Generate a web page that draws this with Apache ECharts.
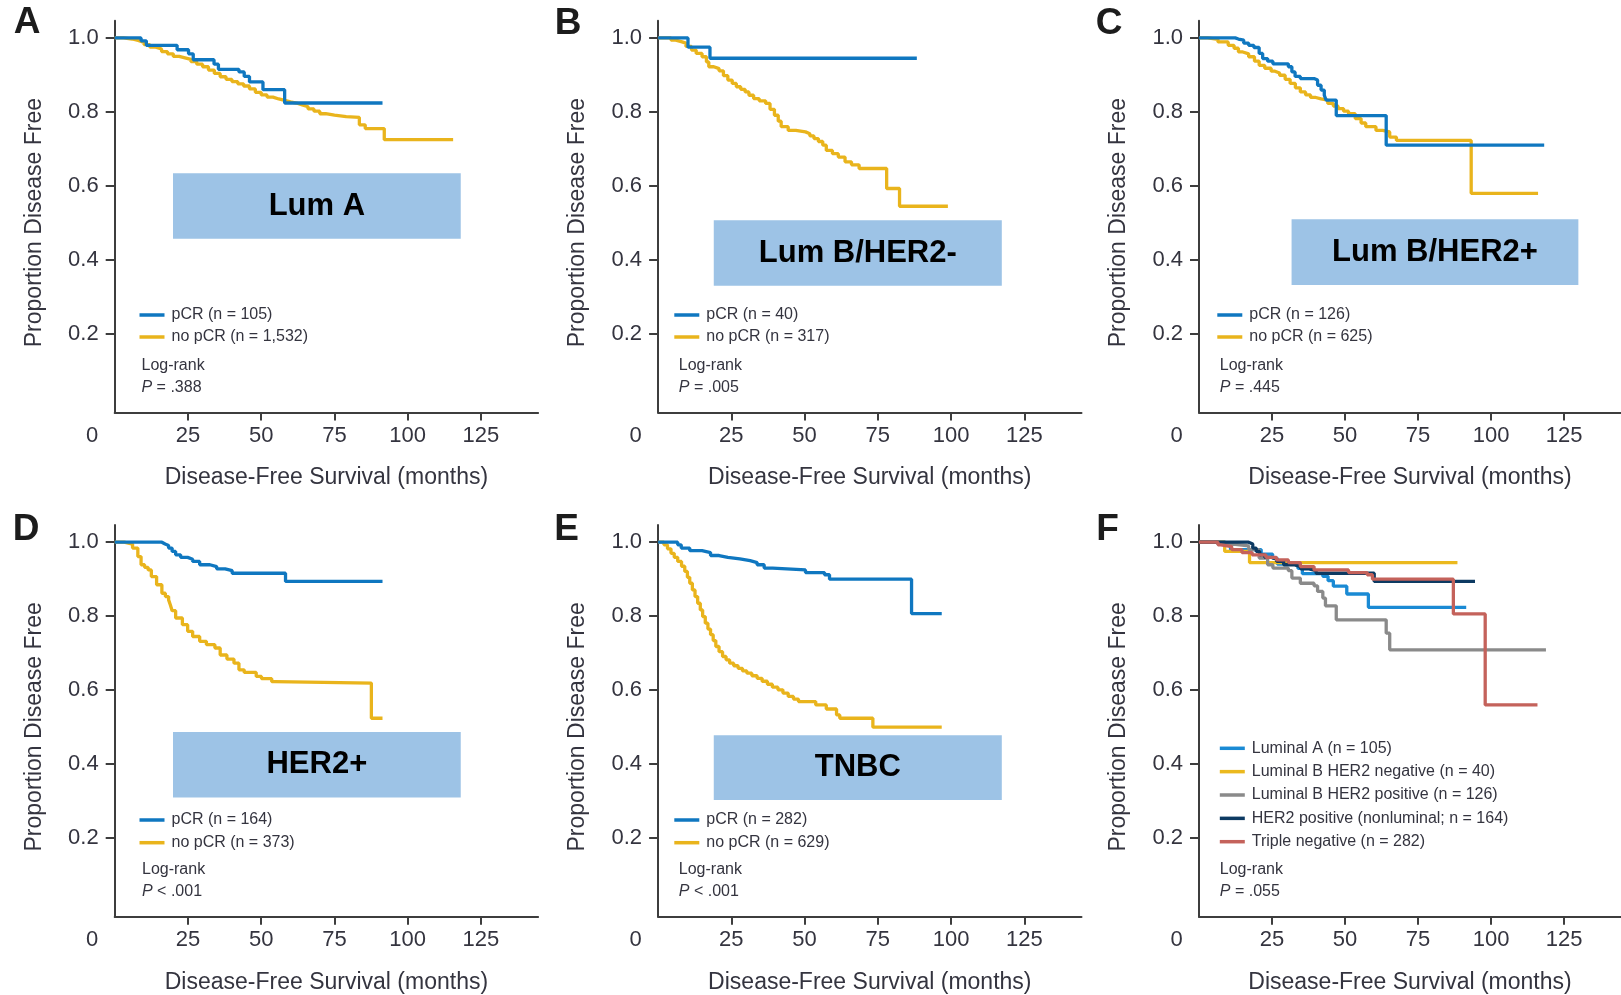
<!DOCTYPE html>
<html><head><meta charset="utf-8">
<script src="https://cdn.jsdelivr.net/npm/echarts@6/dist/echarts.min.js"></script>
<style>html,body{margin:0;padding:0;background:#fff}#c{width:1621px;height:995px}</style>
</head><body><div id="c"></div>
<script>
// ---------------- DATA ----------------
const xTicks = [0, 25, 50, 75, 100, 125];
const yTicks = [0.2, 0.4, 0.6, 0.8, 1.0];
const panelLetters = ['A', 'B', 'C', 'D', 'E', 'F'];
const subtypeLabels = ['Lum A', 'Lum B/HER2-', 'Lum B/HER2+', 'HER2+', 'TNBC'];
const pcrNames = ['pCR (n = 105)', 'pCR (n = 40)', 'pCR (n = 126)', 'pCR (n = 164)', 'pCR (n = 282)'];
const noPcrNames = ['no pCR (n = 1,532)', 'no pCR (n = 317)', 'no pCR (n = 625)', 'no pCR (n = 373)', 'no pCR (n = 629)'];
const fNames = ['Luminal A (n = 105)', 'Luminal B HER2 negative (n = 40)', 'Luminal B HER2 positive (n = 126)', 'HER2 positive (nonluminal; n = 164)', 'Triple negative (n = 282)'];
const pValues = ['= .388', '= .005', '= .445', '< .001', '< .001', '= .055'];
const xTitle = 'Disease-Free Survival (months)';
const yTitle = 'Proportion Disease Free';

// [month, proportion disease free]
const lumA_pcr = [[0,1],[9.0,0.992],[10.8,0.980],[21.3,0.968],[25.2,0.957],[26.8,0.941],[33.9,0.929],[35.4,0.915],[42.4,0.908],[44.2,0.896],[46.0,0.881],[50.6,0.860],[58.0,0.824],[91.4,0.824]];
const lumA_nopcr = [[0,1],[3,0.997],[6,0.993],[8,0.988],[10,0.982],[12,0.975],[14,0.97],[16,0.963],[18,0.957],[20,0.95],[22,0.946],[24,0.942],[26,0.936],[28,0.929],[30,0.922],[32,0.913],[34,0.904],[36,0.895],[38,0.888],[40,0.882],[42,0.876],[44,0.87],[46,0.862],[48,0.853],[50,0.846],[52,0.84],[54,0.835],[56,0.831],[58,0.827],[60,0.824],[62,0.819],[64,0.814],[66,0.808],[68,0.802],[70,0.795],[72,0.791],[75,0.787],[79,0.785],[83.5,0.765],[85.5,0.755],[92,0.725],[115.5,0.725]];
const lumB2neg_pcr = [[0,1],[10.2,0.975],[17.7,0.945],[88.3,0.945]];
const lumB2neg_nopcr = [[0,1],[4.4,0.994],[6,0.99],[7.9,0.986],[9.5,0.977],[11.4,0.967],[13,0.958],[15,0.949],[16.5,0.935],[17.3,0.922],[19,0.917],[20.8,0.911],[22.3,0.898],[23.8,0.886],[25.3,0.877],[26.7,0.868],[28.2,0.861],[29.7,0.854],[31,0.845],[32.6,0.836],[34.5,0.83],[36.7,0.823],[38.2,0.807],[39.7,0.791],[41,0.775],[42,0.76],[44.4,0.75],[47,0.746],[50.3,0.741],[51.8,0.735],[53.2,0.728],[54.7,0.72],[56.2,0.71],[57.4,0.696],[59.5,0.687],[61.5,0.678],[63.8,0.665],[66,0.657],[68.6,0.647],[78,0.593],[82.4,0.545],[98.9,0.545]];
const lumB2pos_pcr = [[0,1],[12.4,0.997],[13.5,0.994],[15.3,0.986],[17,0.98],[18.8,0.974],[20.6,0.958],[21.8,0.944],[23.5,0.937],[25.3,0.93],[30.6,0.922],[31.8,0.908],[32.9,0.896],[34.7,0.89],[39.4,0.886],[40.6,0.872],[41.8,0.859],[42.9,0.845],[43.5,0.832],[47,0.79],[64.1,0.71],[118.2,0.71]];
const lumB2pos_nopcr = [[0,1],[3,0.996],[6.5,0.989],[10,0.98],[12,0.972],[13.5,0.962],[15,0.957],[17,0.949],[19,0.937],[20.6,0.926],[22.5,0.918],[24.7,0.91],[26,0.905],[27.6,0.899],[29.5,0.888],[31.2,0.877],[33,0.865],[34.7,0.854],[36.5,0.846],[38.2,0.839],[40,0.835],[41.8,0.832],[44.1,0.823],[46,0.816],[47.6,0.809],[49.5,0.802],[51.2,0.795],[53.5,0.782],[55.5,0.77],[57.1,0.76],[60.6,0.75],[62.9,0.746],[65.3,0.732],[67.6,0.723],[93.2,0.58],[116.1,0.58]];
const her2_pcr = [[0,1],[16.1,0.995],[17.2,0.991],[18.4,0.984],[19.6,0.975],[20.8,0.966],[22.5,0.959],[24.9,0.954],[26.6,0.948],[29,0.939],[32.5,0.934],[34.8,0.928],[37.7,0.923],[40.1,0.916],[58.3,0.894],[91.4,0.894]];
const her2_nopcr = [[0,1],[3.2,0.995],[6.1,0.984],[7.9,0.961],[9,0.939],[10.2,0.932],[11.4,0.925],[12.5,0.907],[14.3,0.885],[16.1,0.862],[17.3,0.853],[18.4,0.844],[19,0.83],[19.6,0.815],[20.8,0.795],[23.1,0.777],[24.9,0.759],[26.6,0.745],[29,0.732],[31.3,0.723],[34.2,0.714],[36,0.695],[38.3,0.684],[40.7,0.673],[42.4,0.655],[44.2,0.648],[48.3,0.637],[50.1,0.631],[53.6,0.623],[54.7,0.619],[87.6,0.524],[91.4,0.524]];
const tnbc_pcr = [[0,1],[6.7,0.993],[7.9,0.984],[10.8,0.977],[15,0.972],[17.9,0.964],[20.8,0.959],[23.8,0.955],[27.9,0.95],[31.4,0.945],[33.8,0.939],[36.2,0.93],[39.1,0.925],[50.3,0.918],[56.8,0.912],[58.5,0.9],[86.5,0.807],[96.8,0.807]];
const tnbc_nopcr = [[0,1],[2,0.993],[3.2,0.982],[4.4,0.97],[5.5,0.959],[6.7,0.948],[8,0.935],[9.1,0.921],[10,0.905],[10.8,0.889],[11.7,0.871],[12.6,0.853],[13.5,0.835],[14.4,0.817],[15.2,0.799],[16.1,0.781],[17,0.765],[17.9,0.75],[18.8,0.734],[19.7,0.718],[20.8,0.704],[22,0.691],[23.2,0.682],[24.4,0.673],[25.8,0.666],[27.3,0.659],[28.8,0.652],[30.3,0.646],[32,0.639],[33.8,0.632],[35.5,0.624],[37.3,0.616],[39,0.608],[40.9,0.601],[42.6,0.592],[44.4,0.583],[46.2,0.576],[47.9,0.569],[53.8,0.56],[57.4,0.549],[60.9,0.533],[62,0.524],[73.3,0.5],[96.8,0.5]];
// Panel F
const f_lumA = [[0,1],[9.0,0.992],[10.8,0.980],[21.3,0.968],[25.2,0.957],[26.8,0.941],[33.9,0.929],[35.4,0.915],[42.4,0.908],[44.2,0.896],[46.0,0.881],[50.6,0.860],[58.0,0.824],[91.5,0.824]];
const f_lumB2neg = [[0,1],[8.8,0.975],[17.3,0.945],[88.5,0.945]];
const f_lumB2pos = [[0,1],[6.5,0.994],[12.4,0.99],[17,0.98],[20.6,0.957],[23.5,0.939],[25.3,0.93],[30.6,0.923],[31.8,0.903],[34.7,0.889],[39.4,0.882],[40.6,0.867],[42.4,0.849],[43.3,0.828],[47,0.79],[64.1,0.754],[65.3,0.709],[118.8,0.709]];
const f_her2 = [[0,1],[17,0.995],[18.4,0.984],[19.6,0.975],[20.8,0.966],[22.5,0.959],[24.9,0.954],[26.6,0.948],[29,0.939],[32.5,0.934],[34.8,0.928],[37.7,0.923],[40.1,0.916],[60,0.894],[94.5,0.894]];
const f_tn = [[0,1],[6.5,0.993],[7.5,0.988],[11.2,0.98],[14.7,0.972],[18.2,0.966],[22.9,0.959],[26.5,0.952],[30.6,0.945],[34.7,0.934],[39.4,0.925],[51.2,0.918],[57.6,0.912],[59.4,0.9],[87.1,0.806],[98,0.56],[115.9,0.56]];

// ---------------- LAYOUT / STYLE ----------------
const FONT = '"Liberation Sans", Arial, sans-serif';
const TXT = '#34343f';
const AX = '#3d3d3d';
const BLUE = '#0f77c0', GOLD = '#e9b41c';
const F_COLORS = ['#1a8ad4', '#ebb91e', '#8a8a8a', '#0d3a62', '#c4625b'];
const LINE_W = 3.3;
const X_MAX = 144.5, Y_MIN = -0.0125, Y_MAX = 1.0465;
const GRID_W = 423.4;
const COL_LEFT = [114.7, 658.1, 1199];
const ROWS = [{top: 20.7, height: 391.8}, {top: 525, height: 391.7}];
const LEGEND_POS = [[139.5, 307, 6], [674.3, 307, 6], [1217.3, 307, 6], [139.5, 812, 6.7], [674.3, 812, 6.7], [1219.8, 740.3, 7.35]];
const LOGRANK_POS = [[141.5, 354], [678.8, 354], [1219.8, 354], [142, 858.3], [678.8, 858.3], [1219.8, 858.3]];
const LETTER_POS = [[27, 23], [568, 24], [1109, 23.5], [26, 529.5], [566.7, 529.5], [1107.6, 529.5]];
const BOX = [[19.9, 0.634, 118.1, 0.457], [19.0, 0.507, 117.3, 0.330], [31.7, 0.51, 129.9, 0.332], [19.9, 0.487, 118.1, 0.31], [19.0, 0.478, 117.3, 0.303]];

const pcrData = [lumA_pcr, lumB2neg_pcr, lumB2pos_pcr, her2_pcr, tnbc_pcr];
const noPcrData = [lumA_nopcr, lumB2neg_nopcr, lumB2pos_nopcr, her2_nopcr, tnbc_nopcr];
const fData = [f_lumA, f_lumB2neg, f_lumB2pos, f_her2, f_tn];

const grids = [], xAxes = [], yAxes = [], series = [], legends = [], titles = [], graphics = [];

for (let i = 0; i < 6; i++) {
  const row = ROWS[Math.floor(i / 3)];
  grids.push({left: COL_LEFT[i % 3], top: row.top, width: GRID_W, height: row.height, containLabel: false});
  xAxes.push({
    gridIndex: i, type: 'value', min: 0, max: X_MAX,
    axisLine: {show: true, onZero: false, lineStyle: {color: AX, width: 2}},
    axisTick: {show: true, customValues: xTicks.filter(v => v > 0), length: 8, lineStyle: {color: AX, width: 2}},
    axisLabel: {
      customValues: xTicks, fontSize: 22, color: TXT, fontFamily: FONT, margin: 12,
      formatter: v => v === 0 ? '{z|0}' : String(v),
      rich: {z: {fontSize: 22, color: TXT, fontFamily: FONT, padding: [0, 45, 0, 0]}}
    },
    splitLine: {show: false},
    name: xTitle, nameLocation: 'middle', nameGap: 54,
    nameTextStyle: {fontSize: 23, color: TXT, fontFamily: FONT}
  });
  yAxes.push({
    gridIndex: i, type: 'value', min: Y_MIN, max: Y_MAX,
    axisLine: {show: true, onZero: false, lineStyle: {color: AX, width: 2}},
    axisTick: {show: true, customValues: yTicks, length: 9, lineStyle: {color: AX, width: 2}},
    axisLabel: {customValues: yTicks, fontSize: 22, color: TXT, fontFamily: FONT, margin: 16, formatter: v => v.toFixed(1)},
    splitLine: {show: false},
    name: yTitle, nameLocation: 'middle', nameGap: 69,
    nameTextStyle: {fontSize: 23, color: TXT, fontFamily: FONT, padding: [0, 12, 0, 0]}
  });

  const lineOpts = (name, data, color, z) => ({
    type: 'line', name, data, xAxisIndex: i, yAxisIndex: i, step: 'end',
    showSymbol: false, symbol: 'none', color, z,
    lineStyle: {color, width: LINE_W}, animation: false, silent: true
  });

  let legendNames;
  if (i < 5) {
    const s1 = lineOpts(noPcrNames[i], noPcrData[i], GOLD, 2);
    const b = BOX[i];
    s1.markArea = {
      silent: true,
      itemStyle: {color: '#9DC3E6', opacity: 1},
      label: {show: true, position: 'inside', fontSize: 31, fontWeight: 'bold', color: '#000', fontFamily: FONT},
      data: [[{name: subtypeLabels[i], coord: [b[0], b[1]]}, {coord: [b[2], b[3]]}]]
    };
    series.push(s1);
    series.push(lineOpts(pcrNames[i], pcrData[i], BLUE, 3));
    legendNames = [pcrNames[i], noPcrNames[i]];
  } else {
    fData.forEach((d, k) => series.push(lineOpts(fNames[k], d, F_COLORS[k], 2 + k)));
    legendNames = fNames.slice();
  }
  const lp = LEGEND_POS[i];
  legends.push({
    data: legendNames, left: lp[0], top: lp[1], orient: 'vertical', padding: 0,
    itemWidth: 25, itemHeight: 3.5, itemGap: lp[2], icon: 'rect', selectedMode: false,
    textStyle: {fontSize: 16, lineHeight: 16, color: TXT, fontFamily: FONT, padding: [0, 0, 0, 2]}
  });
  const lr = LOGRANK_POS[i];
  titles.push({
    text: '{n|Log-rank}\n{i|P}{n| ' + pValues[i] + '}', left: lr[0], top: lr[1], padding: 0,
    textStyle: {fontWeight: 'normal', rich: {
      n: {fontSize: 16, color: TXT, fontFamily: FONT, fontWeight: 'normal', lineHeight: 22.4},
      i: {fontSize: 16, color: TXT, fontFamily: FONT, fontWeight: 'normal', fontStyle: 'italic', lineHeight: 22.4}
    }}
  });
  const lt = LETTER_POS[i];
  graphics.push({
    type: 'text', x: lt[0], y: lt[1], silent: true,
    style: {text: panelLetters[i], fill: '#1c1c1c', font: 'bold 37px ' + FONT,
      align: 'center', verticalAlign: 'middle', textAlign: 'center', textVerticalAlign: 'middle'}
  });
}

const chart = echarts.init(document.getElementById('c'), null, {renderer: 'canvas'});
chart.setOption({
  backgroundColor: '#ffffff',
  animation: false,
  grid: grids, xAxis: xAxes, yAxis: yAxes, series,
  legend: legends, title: titles, graphic: graphics
});
</script></body></html>
